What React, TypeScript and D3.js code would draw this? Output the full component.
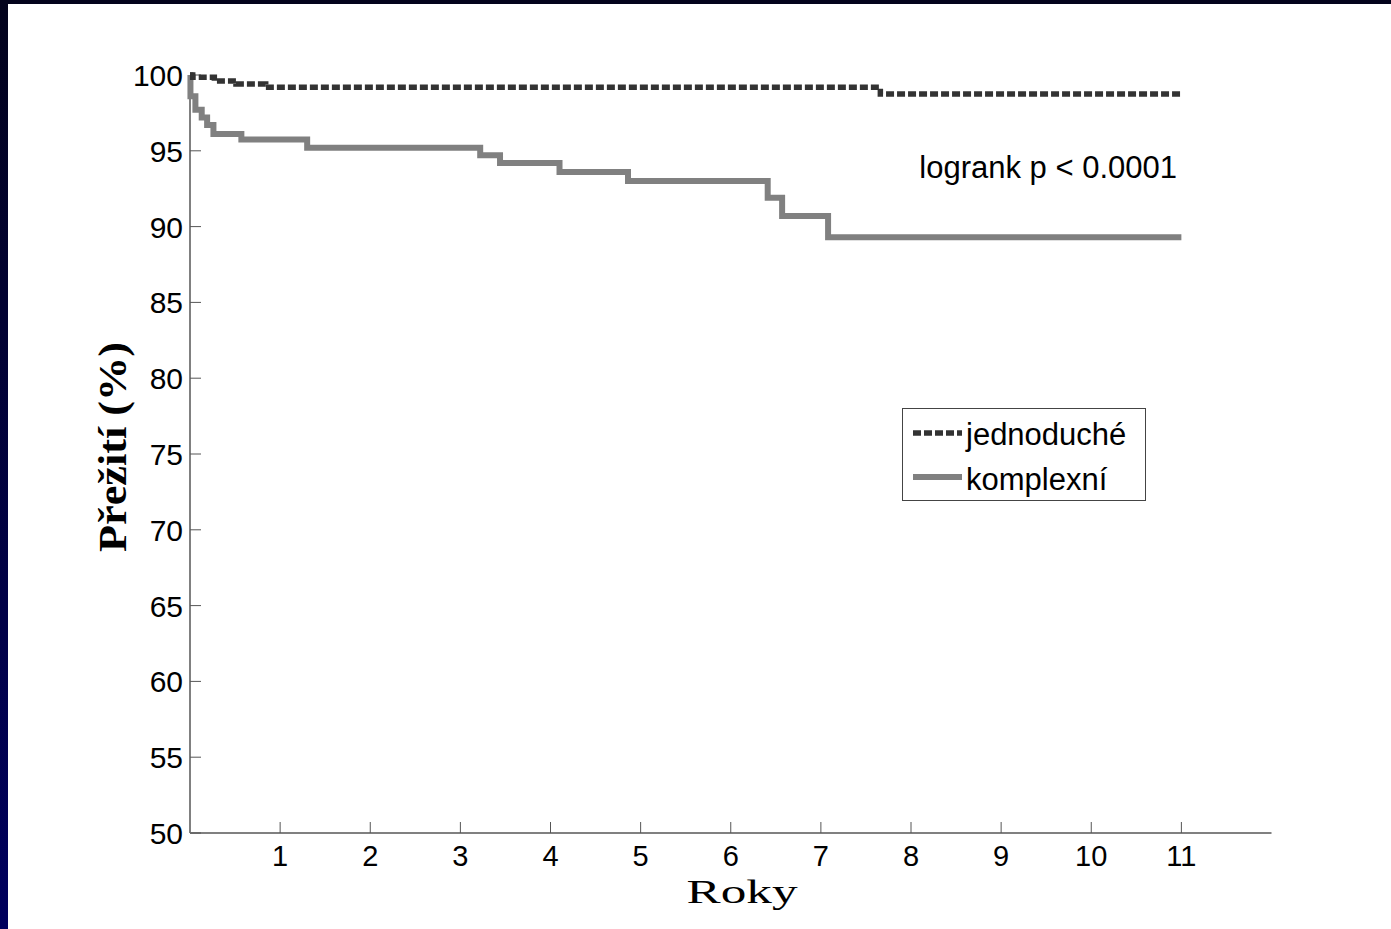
import * as d3 from "d3";

// Kaplan-Meier survival
const simpleYears = [0, 0.03, 0.27, 0.51, 0.84, 7.66, 11];
const simpleSurvival = [100, 99.85, 99.6, 99.4, 99.2, 98.75, 98.75];

const complexYears = [0, 0.005, 0.06, 0.13, 0.19, 0.26, 0.57, 1.3, 3.22, 3.44, 4.1, 4.86, 6.41, 6.57, 7.08, 11];
const complexSurvival = [100, 98.6, 97.7, 97.2, 96.7, 96.1, 95.75, 95.2, 94.7, 94.2, 93.6, 93.0, 91.9, 90.7, 89.3, 89.3];

const xTicks = [1, 2, 3, 4, 5, 6, 7, 8, 9, 10, 11];
const yTicks = [50, 55, 60, 65, 70, 75, 80, 85, 90, 95, 100];

const seriesNames = ["jednoduché", "komplexní"];

type Pt = [number, number];

export default function App() {
  const W = 1391;
  const H = 929;

  const x = d3.scaleLinear().domain([0, 12]).range([190, 1271.5]);
  const y = d3.scaleLinear().domain([50, 100]).range([833, 75]);

  const line = d3
    .line<Pt>()
    .x((d) => x(d[0]))
    .y((d) => y(d[1]))
    .curve(d3.curveStepAfter);

  const simple: Pt[] = simpleYears.map((t, i) => [t, simpleSurvival[i]]);
  const complex: Pt[] = complexYears.map((t, i) => [t, complexSurvival[i]]);

  const sans = "'Liberation Sans', Arial, sans-serif";
  const serif = "'Liberation Serif', 'DejaVu Serif', serif";

  return (
    <svg
      width={W}
      height={H}
      style={{ position: "absolute", left: 0, top: 0, display: "block" }}
    >
      <defs>
        <linearGradient id="frame" x1="0" y1="0" x2="0" y2="1">
          <stop offset="0" stopColor="#03031c" />
          <stop offset="1" stopColor="#00005e" />
        </linearGradient>
      </defs>
      <rect x={0} y={0} width={W} height={H} fill="#ffffff" />
      <rect x={0} y={0} width={W} height={4} fill="#03031c" />
      <rect x={0} y={0} width={8} height={H} fill="url(#frame)" />

      {/* axes */}
      <line x1={x(0)} x2={x(12)} y1={y(50)} y2={y(50)} stroke="#808080" strokeWidth={2} />
      <line x1={x(0)} x2={x(0)} y1={y(50)} y2={y(100)} stroke="#808080" strokeWidth={2} />

      {xTicks.map((t) => (
        <g key={"x" + t}>
          <line x1={x(t)} x2={x(t)} y1={y(50)} y2={y(50) - 11} stroke="#555" strokeWidth={1} />
          <text
            x={x(t)}
            y={866}
            textAnchor="middle"
            fontFamily={sans}
            fontSize={29}
            fill="#000"
          >
            {t}
          </text>
        </g>
      ))}

      {yTicks.map((v) => (
        <g key={"y" + v}>
          <line x1={x(0)} x2={x(0) + 11} y1={y(v)} y2={y(v)} stroke="#555" strokeWidth={1} />
          <text
            x={183}
            y={y(v) + 11}
            textAnchor="end"
            fontFamily={sans}
            fontSize={30}
            fill="#000"
          >
            {v}
          </text>
        </g>
      ))}

      {/* axis titles */}
      <text
        x={742}
        y={903}
        textAnchor="middle"
        fontFamily={serif}
        fontSize={34}
        textLength={111}
        lengthAdjust="spacingAndGlyphs"
        fill="#000"
      >
        Roky
      </text>
      <text
        transform="translate(126,447) rotate(-90)"
        textAnchor="middle"
        fontFamily={serif}
        fontWeight="bold"
        fontSize={40}
        textLength={210}
        lengthAdjust="spacingAndGlyphs"
        fill="#000"
      >
        Přežití (%)
      </text>

      {/* curves */}
      <path d={line(complex) || ""} fill="none" stroke="#808080" strokeWidth={6} />
      <path
        d={line(simple) || ""}
        fill="none"
        stroke="#333333"
        strokeWidth={5.5}
        strokeDasharray="8,3"
      />

      <text
        x={1177}
        y={178}
        textAnchor="end"
        fontFamily={sans}
        fontSize={31}
        fill="#000"
      >
        logrank p &lt; 0.0001
      </text>

      {/* legend */}
      <rect x={902.5} y={408.5} width={243} height={92} fill="#fff" stroke="#444" strokeWidth={1} />
      <line x1={913} x2={962} y1={433} y2={433} stroke="#333333" strokeWidth={5.5} strokeDasharray="8,3" />
      <line x1={913} x2={962} y1={477} y2={477} stroke="#808080" strokeWidth={6} />
      <text x={966} y={445} fontFamily={sans} fontSize={31} fill="#000">
        {seriesNames[0]}
      </text>
      <text x={966} y={490} fontFamily={sans} fontSize={31} fill="#000">
        {seriesNames[1]}
      </text>
    </svg>
  );
}
